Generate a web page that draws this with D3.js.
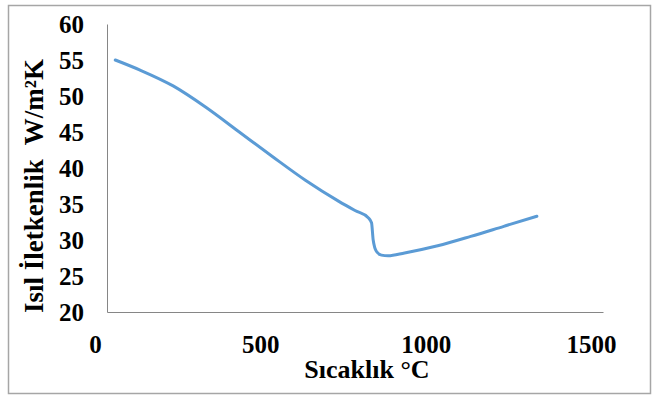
<!DOCTYPE html>
<html>
<head>
<meta charset="utf-8">
<script src="https://cdn.jsdelivr.net/npm/d3@7"></script>
<style>
  body { margin: 0; background: #fff; }
</style>
</head>
<body>
<svg id="chart" width="652" height="396"></svg>
<script>
// temperature (°C) and thermal conductivity (W/m²K)
var temps = [25, 100, 200, 300, 400, 500, 600, 700, 750, 790, 800, 805, 815, 830, 850, 900, 1000, 1100, 1200, 1300];
var cond  = [55, 53.6, 51.4, 48.4, 45, 41.6, 38.3, 35.4, 34.1, 33.1, 32.4, 30.0, 28.4, 27.9, 27.8, 28.2, 29.2, 30.5, 31.9, 33.3];

var xTicks = [0, 500, 1000, 1500];
var yTicks = [20, 25, 30, 35, 40, 45, 50, 55, 60];

var serif = "'Liberation Serif', 'DejaVu Serif', serif";

var svg = d3.select("#chart");

// outer frame
svg.append("rect")
    .attr("x", 8.5).attr("y", 5.5)
    .attr("width", 642).attr("height", 388)
    .attr("fill", "none")
    .attr("stroke", "#a6a6a6")
    .attr("stroke-width", 1.5);

var xScale = d3.scaleLinear().domain([0, 1500]).range([107, 603]);
var yScale = d3.scaleLinear().domain([20, 60]).range([312, 24]);

// x-axis: no tick marks, labels sit a bit left of the tick like in Excel
var xAxis = d3.axisBottom(xScale)
    .tickValues(xTicks)
    .tickSize(0)
    .tickPadding(0)
    .tickFormat(d3.format("d"));

var gx = svg.append("g")
    .attr("transform", "translate(0,312)")
    .attr("font-family", serif)
    .call(xAxis);
gx.attr("font-family", serif).attr("font-size", 25).attr("font-weight", "bold");
gx.select(".domain").attr("stroke", "#868686");
gx.selectAll(".tick text")
    .attr("fill", "#000")
    .attr("dx", -12)
    .attr("dy", 41);

// y-axis
var yAxis = d3.axisLeft(yScale)
    .tickValues(yTicks)
    .tickSize(0)
    .tickPadding(23);

var gy = svg.append("g")
    .attr("transform", "translate(107,0)")
    .call(yAxis);
gy.attr("font-family", serif).attr("font-size", 25).attr("font-weight", "bold");
gy.select(".domain").attr("stroke", "#868686");
gy.selectAll(".tick text").attr("fill", "#000");

// the curve
var line = d3.line()
    .x(function(d, i) { return xScale(temps[i]); })
    .y(function(d) { return yScale(d); })
    .curve(d3.curveMonotoneX);

svg.append("path")
    .datum(cond)
    .attr("d", line)
    .attr("fill", "none")
    .attr("stroke", "#5b9bd5")
    .attr("stroke-width", 3)
    .attr("stroke-linecap", "round");

// axis titles
svg.append("text")
    .attr("x", 367).attr("y", 378)
    .attr("text-anchor", "middle")
    .attr("font-family", serif)
    .attr("font-weight", "bold")
    .attr("font-size", 26)
    .text("Sıcaklık °C");

var yt = svg.append("text")
    .attr("transform", "translate(43,186) rotate(-90)")
    .attr("text-anchor", "middle")
    .attr("font-family", serif)
    .attr("font-weight", "bold")
    .attr("font-size", 27);
yt.append("tspan").text("Isıl İletkenlik");
yt.append("tspan").attr("dx", 14).text("W/m²K");
</script>
</body>
</html>
